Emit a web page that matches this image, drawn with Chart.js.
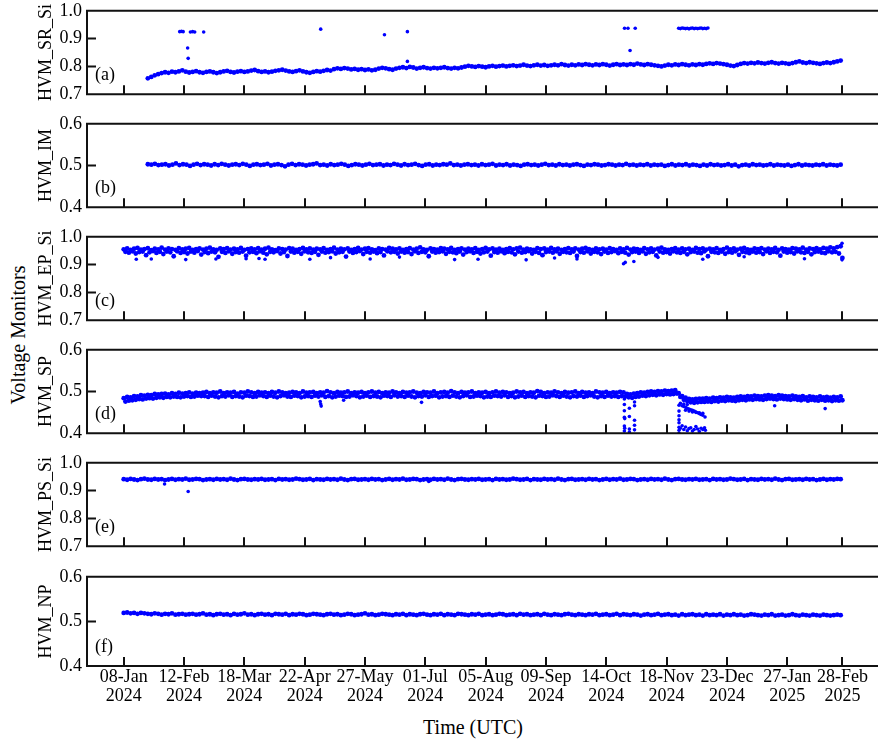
<!DOCTYPE html>
<html>
<head>
<meta charset="utf-8">
<script src="https://cdn.jsdelivr.net/npm/chart.js@4"></script>
<style>
  body { margin: 0; background: #fff; width: 880px; height: 744px; position: relative; overflow: hidden; font-family: "Liberation Serif", serif; }
  .panel { position: absolute; left: 0; }
  #ylab { position: absolute; left: 18px; top: 335px; transform: translate(-50%, -50%) rotate(-90deg); font-size: 20px; white-space: nowrap; }
  #xlab { position: absolute; left: 473px; top: 727px; transform: translate(-50%, -50%); font-size: 20px; white-space: nowrap; }
</style>
</head>
<body>
<div id="ylab">Voltage Monitors</div>
<div id="xlab">Time (UTC)</div>
<script>
// Time axis: days since 08-Jan-2024
const tickDays = [0, 35, 70, 105, 140, 175, 210, 245, 280, 315, 350, 385, 417];
const tickLabels = [
  ["08-Jan", "2024"], ["12-Feb", "2024"], ["18-Mar", "2024"], ["22-Apr", "2024"],
  ["27-May", "2024"], ["01-Jul", "2024"], ["05-Aug", "2024"], ["09-Sep", "2024"],
  ["14-Oct", "2024"], ["18-Nov", "2024"], ["23-Dec", "2024"], ["27-Jan", "2025"], ["28-Feb", "2025"]
];

// Values in thousandths of the plotted value
// HVM_SR_Si, days 14..416
const srSi = [757,762,768,772,776,779,777,781,779,782,786,781,778,780,783,779,777,780,782,779,776,779,782,784,780,778,781,783,780,782,785,787,783,780,782,779,781,784,786,788,785,782,780,783,786,782,779,777,780,783,781,784,787,785,790,793,791,794,792,789,791,788,790,787,789,786,788,792,795,793,790,788,792,795,797,794,798,796,792,795,797,794,792,795,793,795,797,794,792,795,793,796,799,802,800,798,801,799,797,800,802,799,801,803,800,802,804,801,803,806,803,801,804,806,803,805,802,804,806,804,808,805,803,806,804,807,805,808,806,804,807,805,808,806,803,806,808,805,807,805,808,806,810,807,805,808,806,804,802,800,803,806,804,807,805,808,806,804,807,805,808,806,809,811,809,812,810,808,806,803,801,805,809,812,810,813,811,814,812,810,813,815,812,810,813,811,809,812,815,818,814,812,815,813,811,809,812,814,812,815,818,821];
const srOutDays = [32.5,33.5,34.5,38.7,40,41.2,46.4,37.1,37.4,114.3,151.3,164.6,164.6,290.6,292.6,296.8,293.8,322,323,324,325,326,327,328,329,330,331,332,333,334,335,336,337,338,339];
const srOutVals = [925,926,925,924,925,924,924,866,829,934,914,925,818,937,937,937,857,937,936,938,937,936,937,935,937,938,936,937,936,937,938,936,937,936,938];

// HVM_IM, days 14..416
const im = [503,502,504,501,502,503,500,502,505,501,503,502,499,502,504,501,503,502,500,503,501,504,502,500,502,503,501,504,502,499,502,503,501,502,504,500,502,503,501,498,502,504,501,503,502,500,502,503,505,501,502,500,503,501,502,504,502,499,501,503,502,500,502,504,501,502,503,500,502,501,504,502,500,503,501,502,504,501,499,502,503,500,502,501,503,502,505,501,502,500,502,503,501,502,500,503,501,502,504,500,502,501,503,500,502,501,499,502,503,501,502,500,502,504,501,502,500,503,501,502,500,502,503,501,499,502,501,503,502,500,501,503,502,500,502,501,504,501,502,500,502,501,503,500,502,501,502,499,501,503,500,502,501,503,500,502,501,499,502,500,503,501,502,500,501,503,500,502,498,501,502,500,503,501,502,500,501,503,500,502,501,500,502,499,501,503,500,502,501,500,502,501,503,500,502,501,500,502];

// HVM_EP_Si, days 0..416 (upper and lower part of the band)
const epA = [955,958,953,957,960,954,956,959,952,957,955,961,954,958,956,953,959,955,957,960,953,956,958,954,957,961,955,953,958,956,959,954,957,955,960,953,956,958,955,959,954,957,961,955,952,958,956,954,959,957,953,956,960,955,958,954,957,955,959,953,956,961,954,957,955,958,953,956,960,954,957,959,955,952,958,956,954,960,957,955,958,953,956,959,954,957,962,955,953,958,956,954,959,957,955,960,953,956,958,954,957,955,959,953,956,960,955,958,954,957,953,956,959,955,958,961,954,957,955,953,959,956,958,954,960,955,957,953,956,959,955,958,954,957,960,956,953,958,955,957,954,959,956,953,958,955,960,954,957,956,953,959,955,958,954,957,961,955,953,956,959,954,958,955,957,953,960,956,958,954,957,955,959,953,956,961,955,958,954,957,960,955,953,958,956,959,954,957,955,960,953,958,956,954,959,957,955,961,954,958,956,959,955,960,957,962,958,963,966];
const epB = [946,943,948,940,945,947,934,944,949,942,946,938,947,944,930,948,942,945,940,947,943,949,936,945,941,947,944,928,946,942,948,939,945,943,947,932,944,946,941,948,943,937,946,944,949,940,945,931,947,943,946,939,948,944,942,946,935,947,943,945,948,940,944,946,929,947,942,945,949,938,946,943,947,941,945,933,948,944,946,940,947,943,945,938,948,942,946,944,930,947,943,945,948,939,946,944,941,947,936,945,948,942,946,940,944,947,932,945,943,948,941,946,944,937,947,943,945,949,940,946,942,934,945,947,943,948,939,946,944,942,947,931,945,943,948,940,946,944,938,947,942,945,949,941,946,943,936,945,947,942,948,939,944,946,933,947,943,945,940,948,944,942,946,937,945,947,943,941,948,930,946,944,942,947,939,945,943,948,935,946,944,941,947,943,945,938,948,942,946,944,932,947,943,945,940,948,944,942,946,937,945,947,943,941,948,944,946,940,924];
const epOutDays = [7.3,16,36,53.5,71,78.5,82,108,143,192,205.6,233.5,263,290,291,296,336,395,416.8,416.8,120,160,250,310,360];
const epOutVals = [919,920,918,920,921,922,919,919,920,918,919,917,920,903,908,911,919,921,917,977,925,927,924,926,928];

// HVM_SP, days 0..416 (upper and lower part of the band)
const spA = [484,487,486,489,488,491,490,492,491,494,493,
  494,495,493,496,494,497,495,496,498,495,497,496,
  497,499,496,498,497,500,496,498,497,499,495,498,497,500,498,496,499,497,498,496,
  499,497,500,498,496,497,499,498,496,500,497,498,499,496,498,497,501,498,496,499,
  497,498,500,496,498,497,499,496,498,500,497,499,496,498,497,500,498,496,499,497,
  498,500,497,496,499,498,497,500,496,498,499,497,501,498,496,499,497,498,500,496,
  498,497,499,496,498,500,497,499,498,496,497,500,498,499,496,498,497,501,499,496,
  498,497,500,498,496,499,497,498,500,496,499,497,498,496,500,498,497,499,496,498,
  497,499,498,
  494,493,495,496,
  498,497,499,500,499,501,500,502,501,502,503,
  496,489,485,482,481,482,483,
  483,484,483,485,484,486,485,487,486,485,487,488,487,489,488,490,489,488,490,491,490,489,491,490,489,488,490,488,487,489,486,488,487,486,488,486,487,485,487,486,488];
const spB = [476,478,479,480,482,481,483,484,483,485,486,
  485,487,486,488,487,486,488,489,487,488,490,489,
  489,487,490,488,486,489,488,491,487,489,488,486,490,489,487,488,491,489,487,490,
  488,486,489,491,488,487,490,489,486,488,489,487,490,488,491,487,489,486,488,490,
  489,487,488,491,489,486,488,490,487,489,488,486,490,489,487,491,488,489,487,490,
  488,486,489,488,491,487,489,490,486,488,489,487,490,488,486,489,491,487,488,490,
  489,486,488,487,490,489,488,491,487,489,486,488,490,487,489,488,486,490,489,487,
  488,491,489,487,490,488,486,489,488,490,487,489,491,488,486,489,487,490,488,489,
  487,489,488,
  486,485,487,488,
  490,489,491,492,491,493,492,494,493,494,495,
  487,480,477,474,473,474,475,
  475,476,475,477,476,478,477,479,478,477,479,480,479,481,480,482,481,480,482,483,482,481,483,482,481,480,482,480,479,481,478,480,479,478,480,478,479,477,479,478,479];
const spOutDays = [114,114.3,114.6,172.8,127.6,
  290.5,290.5,290.5,290.5,290.7,290.5,290.7,290.5,
  293.4,293.4,293.4,293.4,
  296.4,296.4,296.4,296.4,296.4,
  322.2,322.2,322.2,322.2,322.2,322.2,322.2,322.2,
  324,325,326,327,328,329,330,331,332,333,334,335,336,337.3,
  326,328,330,332,334,336,
  323,324,325,326,327,328,329,330,331,332,333,334,335,336,337,337.5,
  323,325,327,377.7,407];
const spOutVals = [476,470,465,474,479,
  482,469,454,438,435,417,412,405,
  460,440,410,403,
  475,466,431,419,408,
  467,453,442,432,425,414,407,400,
  466,464,462,460,458,456,455,453,451,449,447,445,443,439,
  455,453,451,450,449,448,
  412,418,409,415,406,411,413,405,409,416,410,404,412,409,413,407,
  472,470,469,466,459];

// HVM_PS_Si, days 0..416
const psSi = [941,939,942,940,938,941,943,940,939,942,940,941,938,940,942,939,941,940,943,939,
  940,942,941,938,940,941,939,942,940,941,939,943,940,938,941,942,940,939,941,940,
  942,939,940,941,938,942,940,941,939,940,943,941,939,940,942,938,941,940,939,942,
  940,941,939,943,940,938,941,942,939,940,941,939,942,940,941,938,940,942,939,941,
  940,943,939,940,942,941,938,940,941,939,942,940,941,939,943,940,938,941,942,940,
  939,941,940,942,939,940,941,938,942,940,941,939,940,943,941,939,940,942,938,941,
  940,939,942,940,941,939,943,940,938,941,942,939,940,941,939,942,940,941,938,940,
  942,939,941,940,943,939,940,942,941,938,940,941,939,942,940,941,939,943,940,938,
  941,942,940,939,941,940,942,939,940,941,938,942,940,941,939,940,943,941,939,940,
  942,938,941,940,939,942,940,941,939,943,940,938,941,942,939,940,941,939,942,940,
  941,938,940,942,939,941,940,942,941];
const psOutDays = [23.7, 37.4, 177];
const psOutVals = [924, 897, 933];

// HVM_NP, days 0..416
const np = [519,520,518,519,517,519,518,517,516,518,517,515,517,516,518,515,516,517,515,516,
  517,515,516,518,515,516,514,516,517,515,516,514,517,515,516,518,515,516,514,516,
  517,515,516,514,517,516,515,517,514,516,515,517,516,514,515,517,516,515,514,516,
  517,515,516,514,515,517,516,514,515,516,518,515,516,514,515,517,516,515,514,516,
  515,517,514,516,515,514,516,517,515,514,516,515,517,514,516,515,514,517,516,515,
  514,516,515,517,514,515,516,514,515,517,516,514,515,516,514,517,515,516,514,515,
  516,514,517,515,514,516,515,514,516,517,515,514,516,515,514,516,515,517,514,515,
  516,514,515,517,514,516,515,514,516,515,513,515,516,514,515,517,514,515,516,514,
  515,513,516,514,515,516,514,515,513,516,514,515,514,516,513,515,514,516,514,515,
  513,514,516,515,514,513,515,514,516,513,514,515,513,514,516,514,513,515,514,513,
  515,514,513,515,514,513,514,515,514];

function spread(vals, first, last) {
  const step = (last - first) / (vals.length - 1);
  return vals.map((v, i) => ({ x: first + i * step, y: v / 1000 }));
}
function pairs(days, vals) {
  return days.map((d, i) => ({ x: d, y: vals[i] / 1000 }));
}

const panels = [
  { name: "HVM_SR_Si", letter: "(a)", min: 0.7, max: 1.0, bands: [spread(srSi, 14, 416)], extra: pairs(srOutDays, srOutVals) },
  { name: "HVM_IM", letter: "(b)", min: 0.4, max: 0.6, bands: [spread(im, 14, 416)], extra: [] },
  { name: "HVM_EP_Si", letter: "(c)", min: 0.7, max: 1.0, bands: [spread(epA, 0, 416), spread(epB, 1, 417)], extra: pairs(epOutDays, epOutVals) },
  { name: "HVM_SP", letter: "(d)", min: 0.4, max: 0.6, bands: [spread(spA, 0, 416), spread(spB, 1, 417)], extra: pairs(spOutDays, spOutVals) },
  { name: "HVM_PS_Si", letter: "(e)", min: 0.7, max: 1.0, bands: [spread(psSi, 0, 416)], extra: pairs(psOutDays, psOutVals) },
  { name: "HVM_NP", letter: "(f)", min: 0.4, max: 0.6, bands: [spread(np, 0, 416)], extra: [] }
];

Chart.defaults.font.family = '"Liberation Serif", "Times New Roman", serif';
Chart.defaults.color = "#000";

// frame, inward ticks and panel letter
const framePlugin = {
  id: "frame",
  afterDatasetsDraw(chart, args, opts) {
    const { ctx, chartArea: a, scales: { x, y } } = chart;
    ctx.save();
    ctx.strokeStyle = "#111";
    ctx.lineWidth = 2;
    ctx.beginPath();
    ctx.moveTo(a.right + 2, a.top);
    ctx.lineTo(a.left, a.top);
    ctx.lineTo(a.left, a.bottom);
    ctx.lineTo(a.right + 2, a.bottom);
    tickDays.forEach(d => {
      const px = Math.round(x.getPixelForValue(d));
      ctx.moveTo(px, a.bottom);
      ctx.lineTo(px, a.bottom - 9);
    });
    y.ticks.forEach(t => {
      const py = y.getPixelForValue(t.value);
      ctx.moveTo(a.left, py);
      ctx.lineTo(a.left + 9, py);
    });
    ctx.stroke();
    ctx.fillStyle = "#000";
    ctx.font = '18px "Liberation Serif"';
    ctx.textBaseline = "middle";
    ctx.fillText(opts.letter, a.left + 8, a.bottom - 19);
    ctx.restore();
  }
};

const panelTops = [5, 118, 231, 344, 457, 571];
const panelHeight = 95;

panels.forEach((p, i) => {
  const last = i === panels.length - 1;
  const top = panelTops[i] - 10;
  const h = last ? 744 - top : panelHeight + 20;
  const div = document.createElement("div");
  div.className = "panel";
  div.style.top = top + "px";
  const canvas = document.createElement("canvas");
  canvas.width = 880;
  canvas.height = h;
  div.appendChild(canvas);
  document.body.appendChild(div);

  const datasets = p.bands.map(d => ({
    data: d, pointRadius: 2.4, pointBorderWidth: 0, backgroundColor: "rgb(0,0,255)"
  }));
  datasets.push({ data: p.extra, pointRadius: 1.8, pointBorderWidth: 0, backgroundColor: "rgb(0,0,255)" });

  new Chart(canvas, {
    type: "scatter",
    data: { datasets },
    options: {
      responsive: false,
      animation: false,
      events: [],
      layout: { padding: { left: 35, right: 0, top: 10, bottom: last ? 0 : 10 } },
      plugins: {
        legend: { display: false },
        tooltip: { enabled: false },
        frame: { letter: p.letter }
      },
      scales: {
        x: {
          type: "linear",
          min: -21.3,
          max: 436.5,
          display: last,
          border: { display: false },
          grid: { display: false, drawTicks: false },
          afterBuildTicks: s => { s.ticks = tickDays.map(v => ({ value: v })); },
          afterFit: s => { if (last) s.height = h - 10 - panelHeight; },
          ticks: {
            autoSkip: false,
            maxRotation: 0,
            padding: 1,
            font: { size: 18, lineHeight: 1.1 },
            callback: (v, idx) => tickLabels[idx]
          }
        },
        y: {
          min: p.min,
          max: p.max,
          border: { display: false },
          grid: { display: false, drawTicks: false },
          afterFit: s => { s.width = 52; },
          ticks: {
            stepSize: 0.1,
            padding: 5,
            font: { size: 18 },
            callback: v => v.toFixed(1)
          },
          title: {
            display: true,
            text: p.name,
            padding: 0,
            font: { size: 18 }
          }
        }
      }
    },
    plugins: [framePlugin]
  });
});
</script>
</body>
</html>
